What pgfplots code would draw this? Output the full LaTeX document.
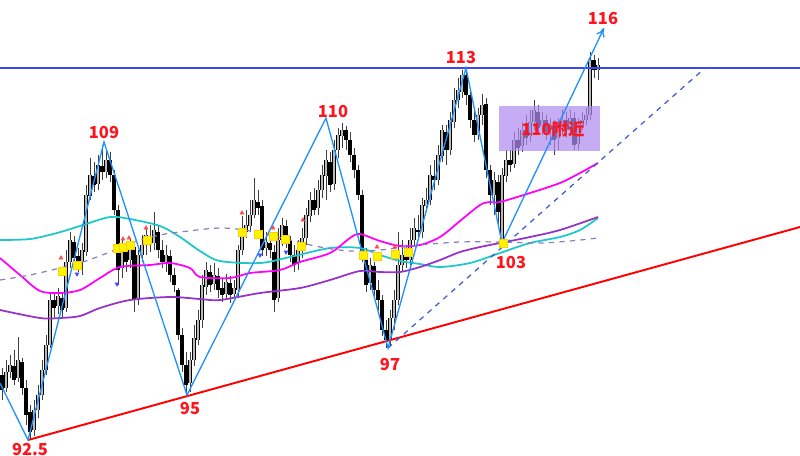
\documentclass[border=0pt]{standalone}
\usepackage{pgfplots}
\usepackage{pgfplotstable}
\pgfplotsset{compat=1.18}
\usetikzlibrary{arrows.meta}
\usepackage{fontspec}
\newfontfamily\cjk{Noto Sans CJK SC}
\definecolor{zig}{RGB}{30,144,255}
\definecolor{hline}{RGB}{60,70,235}
\definecolor{dashblue}{RGB}{60,90,210}
\definecolor{cyanma}{RGB}{30,200,200}
\definecolor{magma}{RGB}{255,0,255}
\definecolor{purpma}{RGB}{150,50,200}
\definecolor{dashma}{RGB}{140,125,190}
\definecolor{lbl}{RGB}{255,20,30}
\definecolor{boxc}{RGB}{175,140,240}
\pgfplotstableread{
x o h l c
2 375 368 400 390
6 388 360 392 372
10 372 355 378 365
14 366 350 385 380
18 378 337 382 360
22 362 358 395 388
26 388 380 425 415
30 412 405 440 432
34 430 400 436 410
38 410 385 418 395
42 395 360 400 370
46 370 335 375 345
50 345 292 348 300
54 300 292 318 308
58 306 288 314 296
62 298 292 318 310
66 308 250 312 262
70 262 232 268 240
74 242 236 264 258
78 256 248 272 262
82 262 243 275 250
86 252 185 256 195
90 196 158 200 175
94 176 162 192 185
98 184 155 190 165
102 166 145 180 172
106 172 150 178 160
110 160 152 182 175
114 175 170 215 210
118 210 205 285 270
122 268 240 278 250
126 250 242 272 262
130 260 238 268 245
134 247 242 312 300
138 298 250 305 255
142 255 235 262 245
146 245 228 255 235
150 236 225 252 245
154 243 212 250 230
158 232 226 258 250
162 250 240 268 262
166 262 245 272 255
170 256 250 282 275
174 275 268 292 285
178 290 288 340 335
182 335 328 372 365
186 365 352 397 385
190 383 352 392 360
194 360 325 366 338
198 340 310 345 320
202 320 275 328 285
206 287 262 295 270
210 272 265 292 285
214 284 263 290 275
218 276 268 298 290
222 288 278 302 295
226 294 274 300 282
230 283 276 303 295
234 294 280 298 288
238 290 245 298 250
242 250 216 255 230
246 232 210 238 225
250 226 200 232 215
254 215 178 218 200
258 202 190 215 208
262 206 200 256 250
266 248 232 256 242
270 243 236 258 250
274 252 245 312 300
278 298 228 302 240
282 240 218 246 225
286 226 220 248 240
290 240 236 262 255
294 255 245 272 265
298 263 240 270 250
302 250 228 258 238
306 238 208 245 215
310 216 192 222 200
314 200 188 215 210
318 208 180 215 190
322 190 165 198 175
326 176 150 200 160
330 162 152 192 185
334 184 140 190 150
338 150 128 158 135
342 136 123 148 130
346 130 126 150 140
350 140 132 162 155
354 155 148 178 170
358 170 165 200 195
362 195 190 262 255
366 255 248 292 285
370 283 258 290 265
374 266 262 296 290
378 290 280 310 300
382 300 295 336 330
386 330 320 348 340
390 340 310 346 318
394 318 290 330 300
398 300 232 305 265
402 265 240 272 255
406 256 245 268 260
410 260 228 265 240
414 240 218 245 228
418 230 215 240 232
422 232 198 238 205
426 206 188 212 200
430 200 165 205 175
434 176 160 190 180
438 180 145 185 155
442 156 125 162 130
446 132 125 165 150
450 150 112 155 120
454 122 88 128 100
458 100 78 108 90
462 92 70 98 75
466 75 68 105 95
470 95 88 128 120
474 120 110 142 135
478 135 108 140 115
482 115 94 125 105
486 104 98 178 170
490 170 165 205 195
494 195 172 215 180
498 182 175 225 212
502 240 168 245 175
506 176 150 182 160
510 160 150 172 165
514 164 132 168 140
518 140 128 155 148
522 146 122 152 130
526 130 115 145 138
530 136 110 142 122
534 122 100 130 110
538 112 105 135 128
542 126 112 135 120
546 120 115 140 132
550 130 118 145 125
554 126 120 155 140
558 138 118 150 128
562 128 110 135 120
566 120 112 138 130
570 130 110 136 118
574 118 112 150 145
578 144 118 150 125
582 125 112 130 120
586 120 108 125 115
590 115 52 120 60
594 60 55 78 70
598 70 58 80 65
}\candles
\begin{document}
\begin{tikzpicture}
\begin{axis}[name=ax, scale only axis, width=16cm, height=9.1cm,
  xmin=0, xmax=800, ymin=0, ymax=455, y dir=reverse, hide axis,
  enlargelimits=false, clip=true]
% candle wicks
\addplot[draw=none, mark=none, forget plot,
  error bars/.cd, y dir=both, y explicit, error mark=none,
  error bar style={draw=black!75, line width=0.45pt, solid}]
  table[x=x, y expr={(\thisrow{h}+\thisrow{l})/2}, y error expr={(\thisrow{l}-\thisrow{h})/2}] {\candles};
% candle bodies (outline / black)
\addplot[draw=none, mark=none, forget plot,
  error bars/.cd, y dir=both, y explicit, error mark=none,
  error bar style={draw=black, line width=1.8pt, solid}]
  table[x=x, y expr={(\thisrow{o}+\thisrow{c})/2}, y error expr={abs(\thisrow{o}-\thisrow{c})/2+0.4}] {\candles};
% bull bodies interior
\addplot[draw=none, mark=none, forget plot,
  error bars/.cd, y dir=both, y explicit, error mark=none,
  error bar style={draw=gray!55, line width=1.25pt, solid}]
  table[x=x, y expr={(\thisrow{o}+\thisrow{c})/2}, y error expr={max((\thisrow{o}-\thisrow{c})/2-0.4,0)}] {\candles};
% moving averages
\addplot[cyanma, line width=1pt, smooth] coordinates {(0,240)(30,239)(57,233)(83,225)(110,217)(130,219)(160,226)(180,237)(200,251)(220,261)(260,263)(290,257)(330,248)(360,248)(380,255)(400,261)(420,264)(440,267)(470,263)(500,253)(530,243)(560,237)(580,230)(598,218)};
\addplot[magma, line width=1pt, smooth] coordinates {(0,258)(20,275)(40,291)(60,293)(80,290)(100,278)(120,267)(150,265)(170,263)(190,268)(200,277)(230,278)(250,273)(280,270)(300,262)(330,253)(350,238)(360,234)(380,241)(400,246)(420,245)(440,237)(460,221)(480,205)(490,202)(500,202)(530,193)(560,183)(580,173)(598,163)};
\addplot[purpma, line width=1pt, smooth] coordinates {(0,310)(40,318)(60,318)(80,316)(100,308)(130,300)(170,297)(200,299)(220,300)(260,293)(300,288)(330,280)(360,271)(380,272)(400,272)(420,267)(440,260)(460,252)(480,247)(500,243)(530,237)(560,230)(598,217)};
\addplot[dashma, line width=0.7pt, dashed, smooth] coordinates {(0,280)(30,275)(60,268)(80,263)(110,252)(130,243)(160,235)(180,232)(220,228)(250,231)(290,240)(320,247)(350,251)(380,250)(420,245)(460,242)(500,242)(540,243)(570,241)(598,238)};
% box
\addplot[draw=none, fill=boxc, fill opacity=0.72] coordinates {(499,106)(600,106)(600,151)(499,151)} -- cycle;
% trend lines
\addplot[red, line width=1.1pt] coordinates {(28,440)(800,227)};
\addplot[hline, line width=0.6pt] coordinates {(0,68)(800,68)};
\addplot[dashblue, line width=0.7pt, dashed] coordinates {(388,348)(705,68)};
\addplot[zig, line width=0.75pt] coordinates {(0,383)(28,440)(104,142)(187,395)(326,118)(388,348)(466,68)(502,243)};
\addplot[zig, line width=0.75pt, -{To[length=5pt,width=5pt]}] coordinates {(502,243)(604,28)};
% signal markers
\addplot[only marks, mark=square*, mark size=2.3pt, mark options={fill=yellow, draw=yellow!70!orange, line width=0.3pt}] coordinates {(62,271)(77,265)(117,248)(123,247)(130,245)(147,240)(242,232)(258,234)(273,236)(285,239)(301,246)(363,255)(377,256)(395,254)(408,252)(503,243)};
\addplot[only marks, mark=triangle*, mark size=1.2pt, mark options={fill=red!70, draw=red!70}] coordinates {(61,258)(123,239)(129,238)(146,228)(242,213)(273,228)(303,220)(377,247)(395,247)};
\addplot[only marks, mark=triangle*, mark size=1.2pt, mark options={fill=blue!70, draw=blue!70, rotate=180}] coordinates {(77,274)(117,284)(260,255)(286,252)};
% labels
\begin{scope}[every node/.style={font=\cjk\bfseries\fontsize{9.4}{10}\selectfont, text=lbl, inner sep=0pt}]
\node at (axis cs:104,132) {109};
\node at (axis cs:333,111) {110};
\node at (axis cs:461,57) {113};
\node at (axis cs:603,18) {116};
\node at (axis cs:30,449) {92.5};
\node at (axis cs:190,408) {95};
\node at (axis cs:390,364) {97};
\node at (axis cs:511,262) {103};
\node at (axis cs:553,129) {110附近};
\end{scope}
\end{axis}
\pgfresetboundingbox
\path (ax.south west) rectangle (ax.north east);
\end{tikzpicture}
\end{document}
